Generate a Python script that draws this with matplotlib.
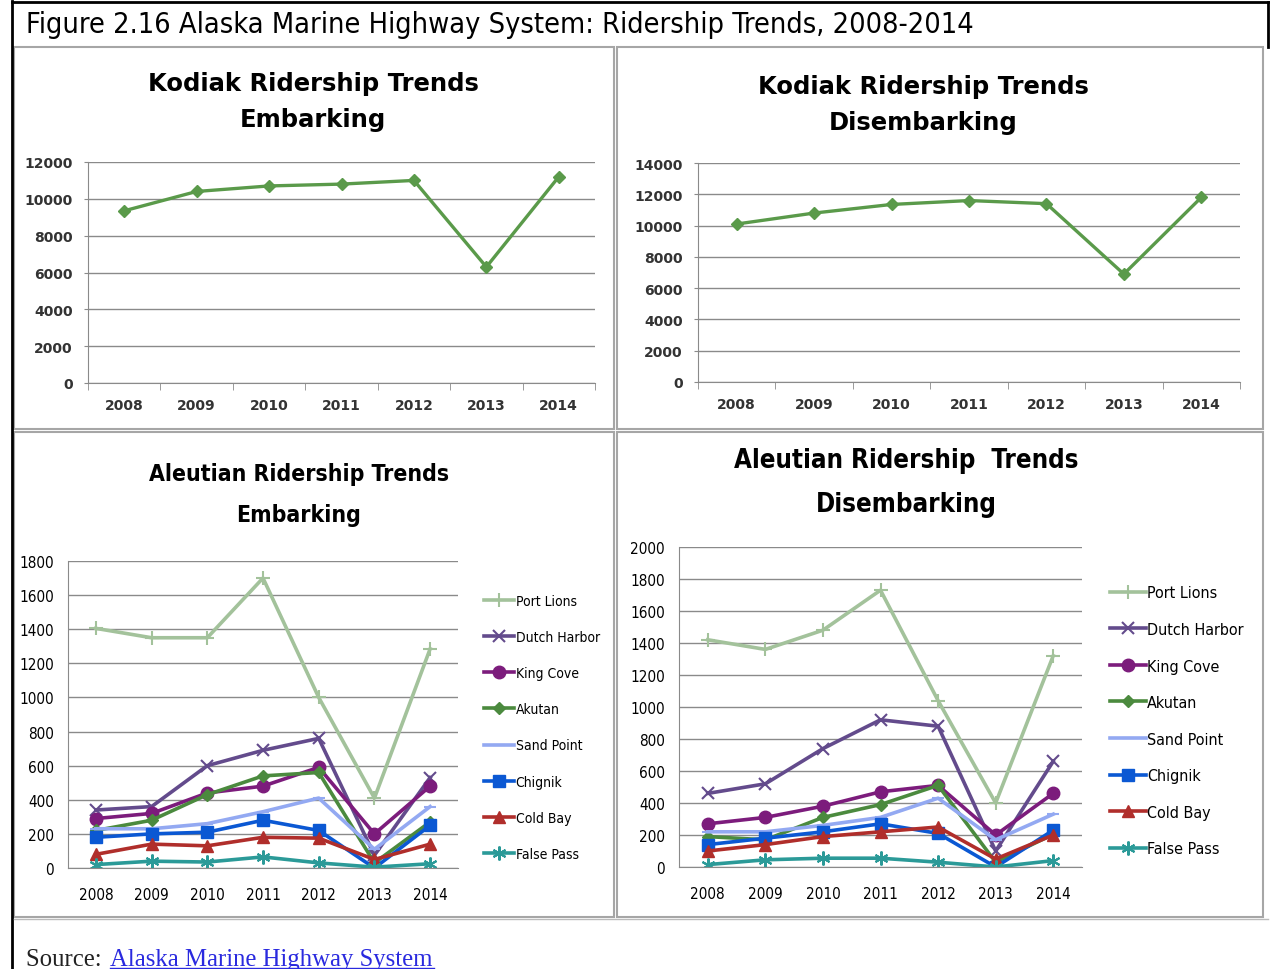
from matplotlib import pyplot as plt
from matplotlib.patches import Rectangle
from matplotlib.lines import Line2D
import numpy as np

years = ["2008", "2009", "2010", "2011", "2012", "2013", "2014"]

kodiak_emb = [9350, 10400, 10700, 10800, 11000, 6300, 11200]
kodiak_dis = [10100, 10800, 11350, 11600, 11400, 6900, 11800]

ports = ["Port Lions", "Dutch Harbor", "King Cove", "Akutan",
         "Sand Point", "Chignik", "Cold Bay", "False Pass"]

aleut_emb = {
    "Port Lions": [1405, 1350, 1350, 1700, 1000, 410, 1285],
    "Dutch Harbor": [340, 360, 600, 690, 760, 75, 530],
    "King Cove": [290, 320, 440, 480, 590, 200, 480],
    "Akutan": [220, 280, 430, 540, 560, 30, 270],
    "Sand Point": [230, 230, 260, 330, 410, 110, 360],
    "Chignik": [180, 200, 210, 280, 220, 0, 250],
    "Cold Bay": [80, 140, 130, 180, 175, 50, 140],
    "False Pass": [20, 40, 35, 65, 30, 5, 25],
}
aleut_dis = {
    "Port Lions": [1420, 1360, 1480, 1730, 1040, 400, 1320],
    "Dutch Harbor": [460, 520, 740, 920, 880, 100, 660],
    "King Cove": [270, 310, 380, 470, 510, 200, 460],
    "Akutan": [190, 170, 310, 390, 510, 30, 205],
    "Sand Point": [220, 220, 260, 310, 430, 170, 330],
    "Chignik": [140, 180, 220, 270, 210, 0, 230],
    "Cold Bay": [100, 140, 190, 220, 250, 50, 200],
    "False Pass": [15, 45, 55, 55, 30, 0, 40],
}

# colour / marker per port, roughly Excel 2007 defaults
styles = {
    "Port Lions": ("#a3c29b", "+", 10),
    "Dutch Harbor": ("#634b8c", "x", 8),
    "King Cove": ("#7c1c7c", "o", 9),
    "Akutan": ("#4b8a3e", "D", 6),
    "Sand Point": ("#93a9f2", "_", 8),
    "Chignik": ("#0b58d3", "s", 8),
    "Cold Bay": ("#b02e2b", "^", 9),
    "False Pass": ("#2b9a98", (6, 2, 0), 10),
}

W, H = 1270, 970
fig = plt.figure(figsize=(W / 100, H / 100), dpi=100)
narrow = ["DejaVu Sans Condensed", "DejaVu Sans"]
grid_c = "#8a8a8a"


def fx(px):
    return px / W


def fy(py):
    return 1 - py / H


def box(x0, y0, x1, y1, color, lw):
    fig.add_artist(Rectangle((fx(x0), fy(y1)), fx(x1) - fx(x0), fy(y0) - fy(y1),
                             transform=fig.transFigure, fill=False,
                             edgecolor=color, linewidth=lw))


def ax_at(x0, y0, x1, y1):
    return fig.add_axes([fx(x0), fy(y1), fx(x1) - fx(x0), fy(y0) - fy(y1)])


def style_axes(ax, top, step, kodiak):
    x = np.arange(len(years))
    ax.set_xlim(-0.5, len(years) - 0.5)
    ax.set_ylim(0, top)
    ax.set_yticks(np.arange(0, top + 1, step))
    ax.set_xticks(x)
    ax.set_xticklabels(years)
    ax.yaxis.grid(True, color=grid_c, linewidth=1)
    ax.set_axisbelow(True)
    for s in ["top", "right"]:
        ax.spines[s].set_visible(False)
    ax.spines["left"].set_color(grid_c)
    ax.spines["bottom"].set_color(grid_c)
    ax.set_facecolor("none")
    if kodiak:
        ax.set_xticks(np.arange(-0.5, len(years)), minor=True)
        ax.tick_params(axis="x", which="minor", length=5, color=grid_c)
        ax.tick_params(axis="x", which="major", length=0, pad=11, labelsize=10)
        ax.tick_params(axis="y", length=3, color=grid_c, labelsize=10, pad=8)
        for lab in ax.get_xticklabels() + ax.get_yticklabels():
            lab.set_fontweight("bold")
            lab.set_color("#333333")
    else:
        ax.tick_params(axis="x", length=0, pad=14, labelsize=11)
        ax.tick_params(axis="y", length=0, labelsize=11, pad=10)
        for lab in ax.get_xticklabels() + ax.get_yticklabels():
            lab.set_family(narrow)
            lab.set_fontstretch("condensed")


# outer frame and header
fig.add_artist(Line2D([fx(12), fx(12)], [fy(2), fy(970)], transform=fig.transFigure,
                      color="black", linewidth=2))
fig.add_artist(Line2D([fx(12), fx(1268)], [fy(3), fy(3)], transform=fig.transFigure,
                      color="black", linewidth=2))
fig.add_artist(Line2D([fx(1268), fx(1268)], [fy(3), fy(48)], transform=fig.transFigure,
                      color="black", linewidth=2))
fig.text(fx(26), fy(25), "Figure 2.16 Alaska Marine Highway System: Ridership Trends, 2008-2014",
         fontsize=20.7, family=narrow, fontstretch="condensed", va="center", ha="left")

box(14, 48, 614, 430, "#a6a6a6", 1.5)
box(617, 48, 1263, 430, "#a6a6a6", 1.5)
box(14, 433, 614, 918, "#a6a6a6", 1.5)
box(617, 433, 1263, 918, "#a6a6a6", 1.5)
fig.add_artist(Line2D([fx(14), fx(1268)], [fy(920), fy(920)], transform=fig.transFigure,
                      color="#bbbbbb", linewidth=1))

x = np.arange(len(years))

# Kodiak embarking
ax1 = ax_at(88, 163, 595, 384)
ax1.plot(x, kodiak_emb, color="#5a9a4a", linewidth=2.4, marker="D", markersize=6)
style_axes(ax1, 12000, 2000, True)
fig.text(fx(313), fy(102), "Kodiak Ridership Trends\nEmbarking", ha="center", va="center",
         fontsize=17.5, fontweight="bold", linespacing=1.65)

# Kodiak disembarking
ax2 = ax_at(698, 164, 1240, 383)
ax2.plot(x, kodiak_dis, color="#5a9a4a", linewidth=2.4, marker="D", markersize=6)
style_axes(ax2, 14000, 2000, True)
fig.text(fx(923), fy(105), "Kodiak Ridership Trends\nDisembarking", ha="center", va="center",
         fontsize=17.5, fontweight="bold", linespacing=1.65)


def aleut(ax, data, top, legend_anchor, fsize, spacing):
    for p in ports:
        c, m, ms = styles[p]
        ax.plot(x, data[p], color=c, linewidth=2.6, marker=m, markersize=ms,
                markeredgewidth=1.5 if m in ("+", "x", "_") or isinstance(m, tuple) else 1,
                label=p)
    style_axes(ax, top, 200, False)
    leg = ax.legend(loc="upper left", bbox_to_anchor=legend_anchor,
                    bbox_transform=fig.transFigure, frameon=False,
                    prop={"family": narrow, "size": fsize, "stretch": "condensed"},
                    labelspacing=spacing, handlelength=2.2, handletextpad=0.1,
                    borderaxespad=0)
    return leg


ax3 = ax_at(68, 562, 458, 869)
aleut(ax3, aleut_emb, 1800, (fx(478), fy(589)), 10, 1.6)
fig.text(fx(299), fy(495), "Aleutian Ridership Trends\nEmbarking", ha="center", va="center",
         fontsize=16.5, fontweight="bold", family=narrow, fontstretch="condensed",
         linespacing=2.0)

ax4 = ax_at(679, 548, 1082, 868)
aleut(ax4, aleut_dis, 2000, (fx(1104), fy(580)), 11.5, 1.35)
fig.text(fx(906), fy(483), "Aleutian Ridership  Trends\nDisembarking", ha="center", va="center",
         fontsize=18.5, fontweight="bold", family=narrow, fontstretch="condensed",
         linespacing=1.85)

# source line
fig.text(fx(26), fy(960), "Source: ", fontsize=17.8, family="Liberation Serif",
         va="center", ha="left", color="#222222")
fig.text(fx(110), fy(960), "Alaska Marine Highway System", fontsize=17.8,
         family="Liberation Serif", va="center", ha="left", color="#2a2adf")
fig.add_artist(Line2D([fx(110), fx(434)], [fy(969), fy(969)], transform=fig.transFigure,
                      color="#2a2adf", linewidth=1))

fig.savefig("out.png", dpi=100)
